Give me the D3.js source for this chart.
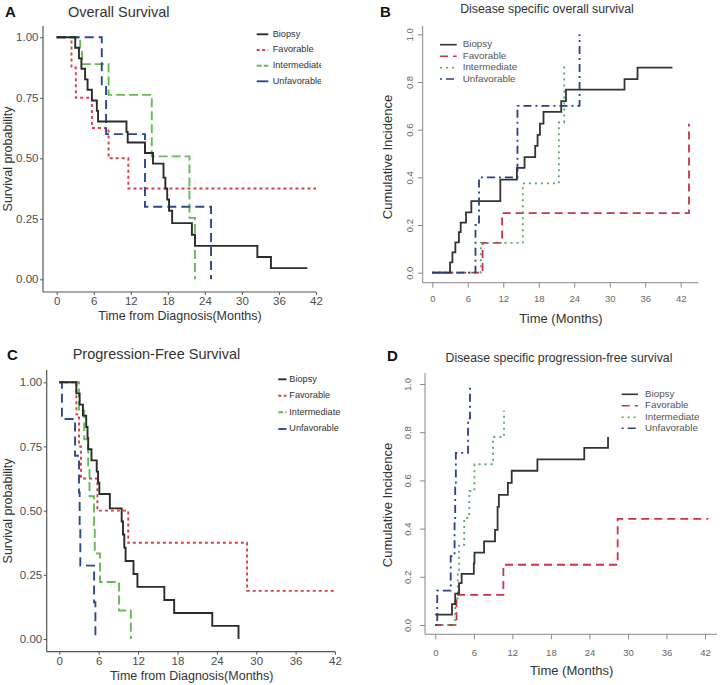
<!DOCTYPE html>
<html>
<head>
<meta charset="utf-8">
<script src="https://cdn.jsdelivr.net/npm/d3@7/dist/d3.min.js"></script>
<style>
  body { margin: 0; background: #fff; }
  svg { display: block; font-family: "Liberation Sans", Arial, sans-serif; }
</style>
</head>
<body>
<div id="chart"></div>
<script>
// groups, shared by all four panels
var groups = ["Biopsy", "Favorable", "Intermediate", "Unfavorable"];
var xTicks = [0, 6, 12, 18, 24, 30, 36, 42];
var survTicks = [0, 0.25, 0.5, 0.75, 1];
var cifTicks = [0, 0.2, 0.4, 0.6, 0.8, 1.0];

// A - overall survival (Kaplan-Meier), [months, probability]
var osBiopsy = [[0,1],[3,0.957],[3.6,0.913],[4,0.87],[4.6,0.826],[5,0.783],[5.7,0.739],[6.5,0.696],[6.7,0.652],[11.3,0.609],[11.5,0.565],[14.3,0.522],[15.6,0.478],[17.3,0.42],[17.6,0.375],[17.9,0.33],[18.2,0.283],[18.7,0.232],[21.9,0.184],[22.4,0.138],[32.5,0.092],[34.7,0.046],[40.6,0.046]];
var osFavorable = [[0,1],[2.4,0.875],[3.1,0.75],[5.7,0.625],[8.4,0.5],[11.6,0.375],[42,0.375]];
var osIntermediate = [[0,1],[3.8,0.944],[4.1,0.889],[8.4,0.762],[15.4,0.508],[21.5,0.254],[22.4,0],[22.4,0]];
var osUnfavorable = [[0,1],[7.3,0.8],[8,0.6],[14.3,0.3],[25,0],[25,0]];

// B - disease specific overall survival (cumulative incidence)
var dsosBiopsy = [[0,0],[3,0.043],[3.4,0.085],[3.9,0.127],[4.5,0.17],[4.8,0.21],[5.7,0.253],[6.6,0.3],[11.5,0.39],[14.3,0.44],[15.6,0.485],[17.4,0.532],[17.8,0.578],[18.2,0.625],[18.8,0.675],[21.8,0.72],[22.6,0.768],[32.5,0.812],[34.7,0.86],[40.6,0.86]];
var dsosFavorable = [[0,0],[8.5,0.125],[11.8,0.25],[43.4,0.625],[43.4,0.625]];
var dsosIntermediate = [[0,0],[8.2,0.125],[15.3,0.375],[21.4,0.63],[22.3,0.875],[22.3,0.875]];
var dsosUnfavorable = [[0,0],[7.3,0.2],[7.9,0.4],[14.4,0.7],[24.9,1],[24.9,1]];

// C - progression-free survival (Kaplan-Meier)
var pfsBiopsy = [[0,1],[2.6,0.957],[3.1,0.913],[3.6,0.87],[4.1,0.826],[4.3,0.783],[4.4,0.739],[4.9,0.696],[5.7,0.652],[5.9,0.609],[6.1,0.565],[7.7,0.509],[9.5,0.458],[9.7,0.407],[9.9,0.356],[10.1,0.304],[11.3,0.253],[11.9,0.203],[16,0.152],[17.5,0.101],[23.3,0.051],[27.3,0],[27.3,0]];
var pfsFavorable = [[0,1],[2.6,0.875],[3,0.75],[3.3,0.625],[5.8,0.5],[10.5,0.375],[28.6,0.1875],[42,0.1875]];
var pfsIntermediate = [[0,1],[3,0.889],[3.8,0.778],[4.4,0.667],[4.6,0.556],[5.3,0.444],[5.4,0.333],[6.2,0.222],[9.1,0.111],[10.9,0],[10.9,0]];
var pfsUnfavorable = [[0,1],[0.4,0.857],[2.4,0.714],[3,0.571],[3.1,0.429],[3.2,0.286],[5.3,0.143],[5.5,0],[5.5,0]];

// D - disease specific progression-free survival (cumulative incidence)
var dspfsBiopsy = [[0,0.043],[2.6,0.087],[3.1,0.13],[3.7,0.174],[4.1,0.212],[6,0.256],[6.1,0.3],[7.6,0.347],[9.3,0.395],[9.7,0.49],[9.9,0.54],[11.3,0.59],[11.9,0.64],[15.9,0.687],[23.2,0.735],[26.9,0.78],[26.9,0.78]];
var dspfsFavorable = [[0,0],[3.3,0.125],[10.6,0.25],[28.4,0.44],[42.5,0.44]];
var dspfsIntermediate = [[0,0],[3.1,0.111],[3.5,0.222],[3.7,0.333],[4.5,0.444],[5.3,0.556],[6.1,0.667],[9,0.78],[10.7,0.89],[10.7,0.89]];
var dspfsUnfavorable = [[0,0],[0.3,0.143],[2.4,0.286],[3,0.429],[3.1,0.571],[3.2,0.714],[5.1,0.857],[5.4,1],[5.4,1]];

var W = 721, H = 685;
var svg = d3.select("#chart").append("svg").attr("width", W).attr("height", H);

var ggColors = {Biopsy: "#2b2b2b", Favorable: "#d6404a", Intermediate: "#66bb55", Unfavorable: "#2b4a8e"};
var ggDash = {Biopsy: null, Favorable: "3,3", Intermediate: "9,4", Unfavorable: "9,5"};
var baseColors = {Biopsy: "#333333", Favorable: "#cc3344", Intermediate: "#55aa66", Unfavorable: "#2a3f85"};
var baseDash = {Biopsy: null, Favorable: "8,5", Intermediate: "2,4", Unfavorable: "2,4,8,4"};

var panels = [
  {id: "A", kind: "gg", title: "Overall Survival", ylab: "Survival probability", xlab: "Time from Diagnosis(Months)",
   data: [osBiopsy, osFavorable, osIntermediate, osUnfavorable],
   xr: [56.7, 316], yr: [279.3, 37.3], box: {l: 43, r: 316, t: 26, b: 292},
   letter: [5, 17], titleXY: [68, 17], ylabXY: [9, 159], xlabXY: [180, 320], xtickY: 302,
   legend: {x1: 256.7, x2: 268.3, tx: 272.7, ys: [34.3, 50, 65.7, 81.3], clip: 321}},
  {id: "B", kind: "base", title: "Disease specific overall survival", ylab: "Cumulative Incidence", xlab: "Time (Months)",
   data: [dsosBiopsy, dsosFavorable, dsosIntermediate, dsosUnfavorable],
   xr: [432.3, 680.7], yr: [272.7, 34.3], box: {l: 422.7, r: 698.3, t: 26, b: 282.7},
   letter: [380, 16.5], titleXY: [547, 13], ylabXY: [392, 157], xlabXY: [561, 323], xtickY: 299.5, ytickX: 410,
   legend: {x1: 440, x2: 456.7, tx: 462.7, ys: [44.7, 56.3, 67.7, 79]}},
  {id: "C", kind: "gg", title: "Progression-Free Survival", ylab: "Survival probability", xlab: "Time from Diagnosis(Months)",
   data: [pfsBiopsy, pfsFavorable, pfsIntermediate, pfsUnfavorable],
   xr: [59.3, 335], yr: [639, 382.3], box: {l: 46.7, r: 335, t: 370, b: 651.7},
   letter: [7, 360], titleXY: [72.7, 358.5], ylabXY: [9, 511], xlabXY: [191.7, 680], xtickY: 662,
   legend: {x1: 278.3, x2: 286.5, tx: 289.3, ys: [379.3, 395.7, 412.3, 429], clip: 341}},
  {id: "D", kind: "base", title: "Disease specific progression-free survival", ylab: "Cumulative Incidence", xlab: "Time (Months)",
   data: [dspfsBiopsy, dspfsFavorable, dspfsIntermediate, dspfsUnfavorable],
   xr: [435.3, 705], yr: [625, 384], box: {l: 425, r: 717, t: 373, b: 634.3},
   letter: [387, 360.5], titleXY: [559, 362], ylabXY: [392, 505], xlabXY: [571.7, 675], xtickY: 653.5, ytickX: 408,
   legend: {x1: 621.7, x2: 638, tx: 645, ys: [394.3, 405.7, 417.3, 428.3]}}
];

panels.forEach(drawPanel);

function drawPanel(p) {
  var gg = p.kind == "gg";
  var g = svg.append("g").attr("class", "panel-" + p.id);
  var x = d3.scaleLinear().domain([0, 42]).range(p.xr);
  var y = d3.scaleLinear().domain([0, 1]).range(p.yr);
  var axisCol = gg ? "#555" : "#888";
  var tickCol = gg ? "#4d4d4d" : "#666";

  // axis lines (L shaped frame)
  g.append("line").attr("x1", p.box.l).attr("x2", p.box.l).attr("y1", p.box.t).attr("y2", p.box.b)
    .attr("stroke", axisCol).attr("stroke-width", gg ? 1.2 : 1);
  g.append("line").attr("x1", p.box.l).attr("x2", p.box.r).attr("y1", p.box.b).attr("y2", p.box.b)
    .attr("stroke", axisCol).attr("stroke-width", gg ? 1.2 : 1);

  var tl = gg ? 3 : 5;
  var xa = g.append("g").attr("transform", "translate(0," + p.box.b + ")")
    .call(d3.axisBottom(x).tickValues(xTicks).tickSize(tl).tickFormat(d3.format("d")));
  xa.select(".domain").remove();
  xa.selectAll("line").attr("stroke", axisCol);
  xa.selectAll("text").attr("fill", tickCol).attr("font-size", gg ? 11.5 : 9.5)
    .attr("y", null).attr("dy", null)
    .attr("transform", "translate(0," + (p.xtickY - p.box.b) + ")")
    .attr("dominant-baseline", "middle");

  var ya = g.append("g").attr("transform", "translate(" + p.box.l + ",0)")
    .call(d3.axisLeft(y).tickValues(gg ? survTicks : cifTicks).tickSize(tl)
      .tickFormat(gg ? d3.format(".2f") : d3.format(".1f")));
  ya.select(".domain").remove();
  ya.selectAll("line").attr("stroke", axisCol);
  if (gg) {
    ya.selectAll("text").attr("fill", tickCol).attr("font-size", 11.5).attr("x", -4.5);
  } else {
    ya.selectAll("text").attr("fill", tickCol).attr("font-size", 9.5)
      .attr("x", null).attr("dy", null)
      .attr("text-anchor", "middle")
      .attr("transform", "translate(" + (p.ytickX - p.box.l) + ",0) rotate(-90)")
      .attr("dominant-baseline", "middle");
  }

  // step curves
  var line = d3.line().x(d => x(d[0])).y(d => y(d[1])).curve(d3.curveStepAfter);
  var cols = gg ? ggColors : baseColors;
  var dashes = gg ? ggDash : baseDash;
  // draw so that black ends up on top like the original
  var order = gg ? [1, 2, 3, 0] : [1, 2, 0, 3];
  order.forEach(function(i) {
    var name = groups[i];
    g.append("path").datum(p.data[i])
      .attr("d", line)
      .attr("fill", "none")
      .attr("stroke", cols[name])
      .attr("stroke-width", gg ? 1.9 : 1.8)
      .attr("stroke-dasharray", dashes[name]);
  });

  // legend
  var lg = g.append("g");
  if (p.legend.clip) {
    var cid = "clip" + p.id;
    svg.append("clipPath").attr("id", cid).append("rect")
      .attr("x", 0).attr("y", 0).attr("width", p.legend.clip).attr("height", H);
    lg.attr("clip-path", "url(#" + cid + ")");
  }
  groups.forEach(function(name, i) {
    var ly = p.legend.ys[i];
    lg.append("line").attr("x1", p.legend.x1).attr("x2", p.legend.x2).attr("y1", ly).attr("y2", ly)
      .attr("stroke", cols[name]).attr("stroke-width", gg ? 1.9 : 1.6)
      .attr("stroke-dasharray", gg ? (name == "Favorable" ? "3,2.5" : name == "Intermediate" ? "5,2" : null) : dashes[name]);
    lg.append("text").attr("x", p.legend.tx).attr("y", ly).attr("dominant-baseline", "middle")
      .attr("font-size", gg ? 9.2 : 9.8).attr("fill", gg ? "#333" : "#555").text(name);
  });

  // titles
  g.append("text").attr("x", p.letter[0]).attr("y", p.letter[1])
    .attr("font-weight", "bold").attr("font-size", 15).attr("fill", "#111").text(p.id);
  g.append("text").attr("x", p.titleXY[0]).attr("y", p.titleXY[1])
    .attr("text-anchor", gg ? "start" : "middle")
    .attr("font-size", gg ? 14.5 : 12.3).attr("fill", "#333").text(p.title);
  g.append("text").attr("transform", "translate(" + p.ylabXY[0] + "," + p.ylabXY[1] + ") rotate(-90)")
    .attr("text-anchor", "middle").attr("dominant-baseline", gg ? "middle" : "auto")
    .attr("font-size", gg ? 12.5 : 13).attr("fill", "#333").text(p.ylab);
  g.append("text").attr("x", p.xlabXY[0]).attr("y", p.xlabXY[1]).attr("text-anchor", "middle")
    .attr("font-size", gg ? 12.5 : 13).attr("fill", "#333").text(p.xlab);
}
</script>
</body>
</html>
